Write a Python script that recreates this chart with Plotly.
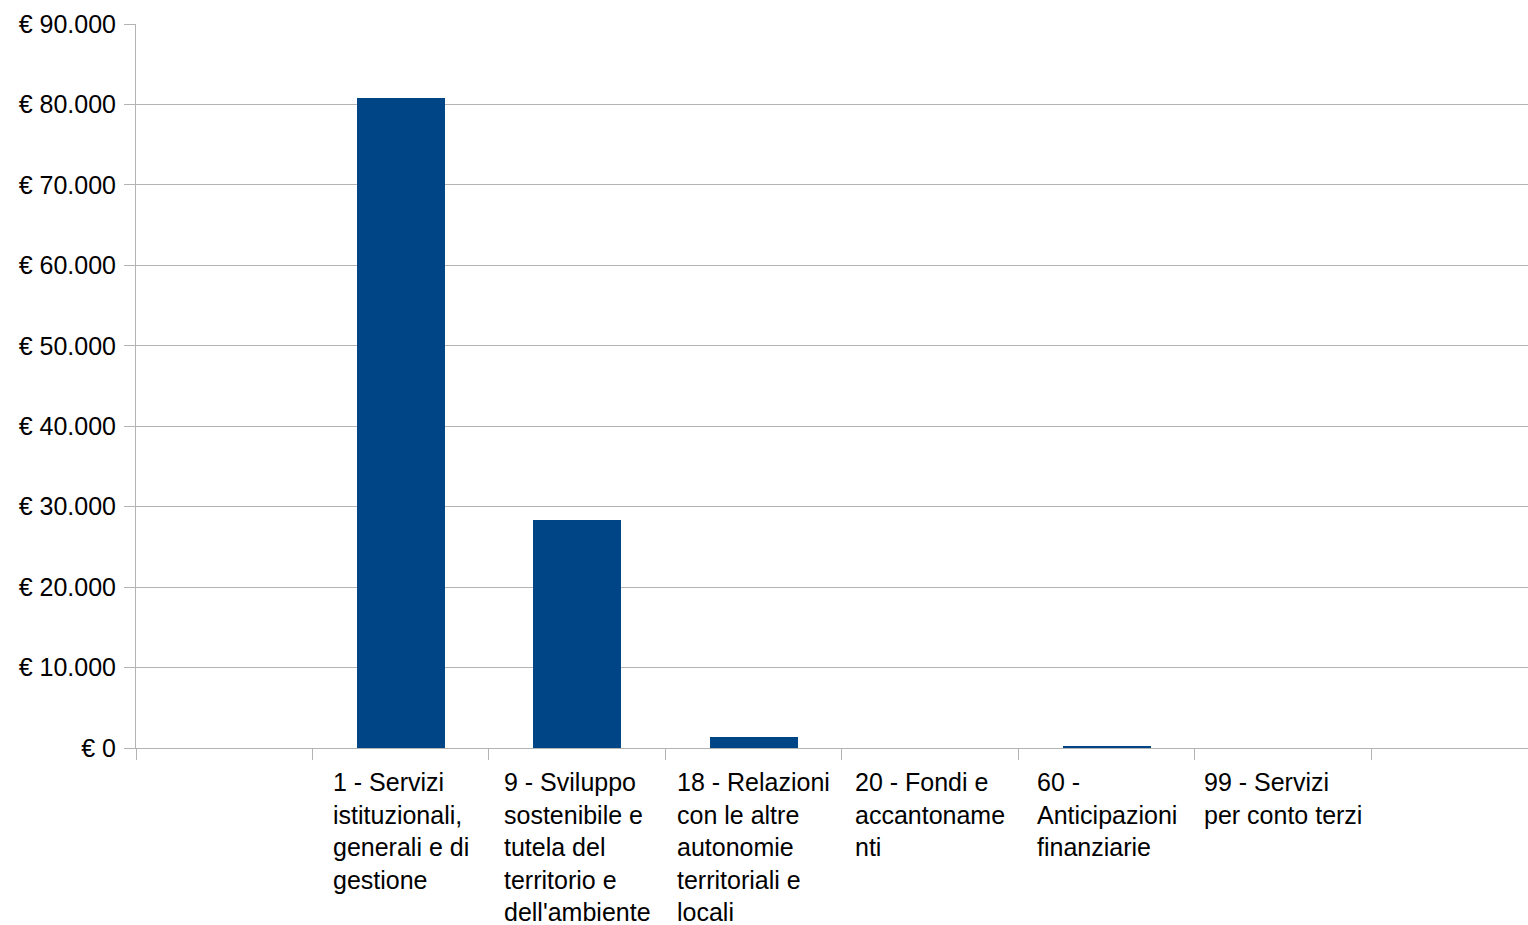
import plotly.graph_objects as go

# Spesa per missione (euro)
categories = [
    "1 - Servizi istituzionali, generali e di gestione",
    "9 - Sviluppo sostenibile e tutela del territorio e dell'ambiente",
    "18 - Relazioni con le altre autonomie territoriali e locali",
    "20 - Fondi e accantonamenti",
    "60 - Anticipazioni finanziarie",
    "99 - Servizi per conto terzi",
]
values = [80800, 28400, 1400, 0, 200, 0]

# Etichette dell'asse x, spezzate su più righe
tick_labels = [
    "1 - Servizi<br>istituzionali,<br>generali e di<br>gestione",
    "9 - Sviluppo<br>sostenibile e<br>tutela del<br>territorio e<br>dell'ambiente",
    "18 - Relazioni<br>con le altre<br>autonomie<br>territoriali e<br>locali",
    "20 - Fondi e<br>accantoname<br>nti",
    "60 -<br>Anticipazioni<br>finanziarie",
    "99 - Servizi<br>per conto terzi",
]

y_tickvals = [0, 10000, 20000, 30000, 40000, 50000, 60000, 70000, 80000, 90000]
y_ticktext = ["€ 0", "€ 10.000", "€ 20.000", "€ 30.000", "€ 40.000",
              "€ 50.000", "€ 60.000", "€ 70.000", "€ 80.000", "€ 90.000"]

FONT = "Liberation Sans, Arial, sans-serif"
GRID = "#b3b3b3"
BAR = "#004586"
FS = 25

# la prima posizione dell'asse resta vuota; le missioni occupano gli slot 1..6
x_pos = [i + 1.5 for i in range(len(categories))]

fig = go.Figure(
    go.Bar(
        x=x_pos,
        y=values,
        width=0.5,
        marker=dict(color=BAR, line=dict(width=0)),
        hovertext=categories,
        hoverinfo="text+y",
    )
)

for xp, lab in zip(x_pos, tick_labels):
    fig.add_annotation(
        x=xp, y=0, xref="x", yref="paper",
        text=lab, showarrow=False,
        xanchor="center", yanchor="top", align="left",
        yshift=-18,
        font=dict(family=FONT, size=FS, color="#000000"),
    )

fig.update_layout(
    width=1528, height=925,
    margin=dict(l=136, r=0, t=24, b=177),
    paper_bgcolor="white", plot_bgcolor="white",
    showlegend=False,
    font=dict(family=FONT, size=FS, color="#000000"),
    bargap=0,
)

fig.update_xaxes(
    range=[0, 7.887],
    tickvals=list(range(0, 8)),
    ticktext=[""] * 8,
    ticks="outside", ticklen=11, tickcolor=GRID, tickwidth=1,
    showline=True, linecolor=GRID, linewidth=1,
    showgrid=False, zeroline=False,
)

fig.update_yaxes(
    range=[0, 90000],
    tickvals=y_tickvals, ticktext=y_ticktext,
    ticks="outside", ticklen=11, tickcolor=GRID, tickwidth=1,
    ticklabelstandoff=3,
    showline=True, linecolor=GRID, linewidth=1,
    showgrid=True, gridcolor=GRID, gridwidth=1,
    zeroline=False,
    tickfont=dict(family=FONT, size=FS, color="#000000"),
)

fig.write_html("out.html")
